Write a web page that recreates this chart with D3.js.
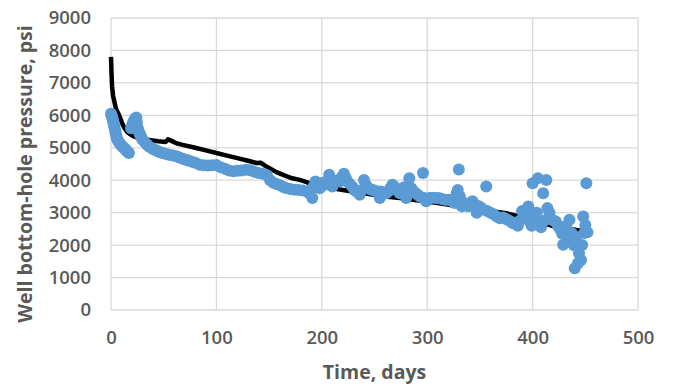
<!DOCTYPE html>
<html>
<head>
<meta charset="utf-8">
<script src="https://cdn.jsdelivr.net/npm/d3@7"></script>
<style>
  body { margin: 0; background: #fff; }
  .axis text { font-family: "Open Sans", sans-serif; font-size: 18.5px; font-weight: 600; fill: #595959; }
  .axis path, .axis line { stroke: none; }
  .grid line { stroke: #d9d9d9; stroke-width: 1.3; }
  .title { font-family: "Open Sans", sans-serif; font-size: 19.5px; font-weight: 700; fill: #595959; }
</style>
</head>
<body>
<div id="chart"></div>
<script>
// axis ticks
const xTicks = [0, 100, 200, 300, 400, 500];
const yTicks = [0, 1000, 2000, 3000, 4000, 5000, 6000, 7000, 8000, 9000];

// model curve [day, psi]
const modelDays = [0, 0.5, 1, 2, 3, 4, 5, 7, 9, 11, 13, 15, 18, 21, 25, 30, 36, 45, 52, 54, 57, 62, 68, 80, 90, 100,
  110, 120, 130, 138, 142, 146, 150, 157, 165, 172, 179, 185, 190, 200, 209, 220, 240, 260, 274, 290, 310, 330,
  343, 360, 375, 390, 399, 410, 420, 427, 435, 441, 452];
const modelPsi = [7800, 7300, 6900, 6600, 6450, 6300, 6180, 6050, 5900, 5720, 5600, 5500, 5420, 5360, 5310, 5270, 5240, 5200, 5180, 5260, 5220, 5140, 5090, 5000, 4920, 4840,
  4760, 4680, 4600, 4530, 4540, 4450, 4380, 4250, 4140, 4060, 4010, 3950, 3880, 3800, 3760, 3700, 3600, 3500, 3450, 3380, 3300, 3200,
  3140, 3050, 2980, 2870, 2800, 2680, 2580, 2520, 2490, 2470, 2420];

// measured points [day, psi]
const measured = [
  [0,6050],[0.5,6000],[1,5950],[1.5,5900],[2,5820],[2.5,5750],[3,5680],[3.5,5600],[4,5520],[4.5,5450],[5,5380],[5.5,5300],
  [6,5250],[7,5200],[8,5150],[9,5100],[10,5060],[11,5030],[12,5000],[13,4970],[14,4940],[15,4900],[16,4870],[17,4840],
  [19,5600],[20,5700],[21,5780],[22,5850],[23,5900],[24,5930],[24.5,5800],[25,5650],[26,5550],[27,5450],[28,5380],[29,5300],
  [30,5250],[32,5180],[34,5100],[36,5040],[38,5000],[40,4960],[42,4930],[44,4900],[46,4870],[48,4850],[50,4830],[53,4800],
  [56,4780],[59,4760],[62,4740],[65,4700],[68,4660],[71,4630],[74,4600],[77,4570],[80,4540],[84,4480],[88,4460],[92,4450],
  [96,4460],[100,4470],[104,4400],[108,4350],[112,4300],[116,4280],[120,4290],[124,4300],[128,4320],[132,4310],[136,4260],
  [140,4220],[144,4200],[148,4150],[151,4000],[154,3920],[157,3880],[160,3850],[163,3800],[166,3760],[170,3730],[174,3710],
  [178,3700],[182,3680],[186,3650],[188,3600],[190,3700],[191,3450],[192,3800],[194,3960],[196,3850],[198,3750],[200,3910],
  [202,3850],[204,3950],[207,4170],[209,3900],[210,3810],[212,3950],[214,3980],[217,3960],[219,4100],[221,4200],[223,4050],
  [226,3910],[229,3800],[231,3700],[233,3650],[236,3550],[238,3700],[240,4010],[242,3850],[244,3750],[246,3720],[248,3700],
  [250,3680],[252,3650],[255,3450],[256,3650],[258,3620],[261,3600],[263,3650],[265,3750],[267,3860],[269,3800],[271,3700],
  [274,3600],[276,3700],[278,3780],[280,3450],[282,3700],[283,4060],[285,3750],[287,3650],[289,3600],[291,3550],[293,3500],
  [296,4220],[297,3450],[299,3350],[302,3450],[305,3460],[308,3450],[311,3450],[314,3420],[317,3400],[320,3400],[322,3380],
  [324,3350],[326,3300],[328,3600],[329,3700],[330,4330],[331,3500],[332,3350],[333,3200],[335,3300],[337,3250],[339,3200],
  [341,3300],[343,3350],[345,3250],[347,3000],[349,3200],[351,3150],[353,3100],[356,3810],[357,3050],[360,3000],[363,2950],
  [366,2880],[369,2830],[372,2850],[375,2800],[378,2750],[381,2680],[384,2650],[386,2600],[388,2750],[390,3050],[392,2950],
  [394,2850],[396,3190],[398,2700],[399,2600],[400,3910],[402,2900],[404,3000],[405,4060],[407,2700],[408,2550],[410,3600],
  [411,2750],[413,4010],[414,3140],[416,3000],[418,2800],[420,2750],[422,2730],[424,2600],[426,2500],[428,2350],[429,2010],
  [431,2470],[432,2600],[434,2200],[435,2780],[437,2370],[439,2000],[440,1290],[441,2260],[442,1960],[443,1440],[444,1750],
  [446,1540],[447,2000],[448,2880],[449,2370],[450,2620],[451,3910],[452,2400]
];

const W = 675, H = 384;
const margin = {top: 18, right: 37, bottom: 74, left: 111};
const width = W - margin.left - margin.right;
const height = H - margin.top - margin.bottom;

const svg = d3.select('#chart').append('svg')
  .attr('width', W)
  .attr('height', H);

const g = svg.append('g')
  .attr('transform', `translate(${margin.left}, ${margin.top})`);

const x = d3.scaleLinear().domain([0, 500]).range([0, width]);
const y = d3.scaleLinear().domain([0, 9000]).range([height, 0]);

// gridlines
g.append('g').attr('class', 'grid')
  .selectAll('line').data(yTicks).join('line')
  .attr('x1', 0).attr('x2', width)
  .attr('y1', d => y(d)).attr('y2', d => y(d));
g.append('g').attr('class', 'grid')
  .selectAll('line').data(xTicks).join('line')
  .attr('x1', d => x(d)).attr('x2', d => x(d))
  .attr('y1', 0).attr('y2', height);

// axes (labels only)
g.append('g').attr('class', 'axis')
  .attr('transform', `translate(0, ${height})`)
  .call(d3.axisBottom(x).tickValues(xTicks).tickSize(0).tickPadding(21));
g.append('g').attr('class', 'axis')
  .call(d3.axisLeft(y).tickValues(yTicks).tickSize(0).tickPadding(20).tickFormat(d3.format('d')));

// model line
const model = modelDays.map((d, i) => [d, modelPsi[i]]);
g.append('path')
  .datum(model)
  .attr('fill', 'none')
  .attr('stroke', '#000')
  .attr('stroke-width', 4.5)
  .attr('stroke-linejoin', 'round')
  .attr('d', d3.line().x(d => x(d[0])).y(d => y(d[1])));

// measured points
g.append('g')
  .selectAll('circle').data(measured).join('circle')
  .attr('cx', d => x(d[0]))
  .attr('cy', d => y(d[1]))
  .attr('r', 6)
  .attr('fill', '#5b9bd5');

// titles
svg.append('text').attr('class', 'title')
  .attr('text-anchor', 'middle')
  .attr('x', margin.left + width / 2)
  .attr('y', H - 5)
  .text('Time, days');
svg.append('text').attr('class', 'title')
  .attr('text-anchor', 'middle')
  .attr('transform', `translate(32, ${margin.top + height / 2 + 10}) rotate(-90)`)
  .text('Well bottom-hole pressure, psi');
</script>
</body>
</html>
